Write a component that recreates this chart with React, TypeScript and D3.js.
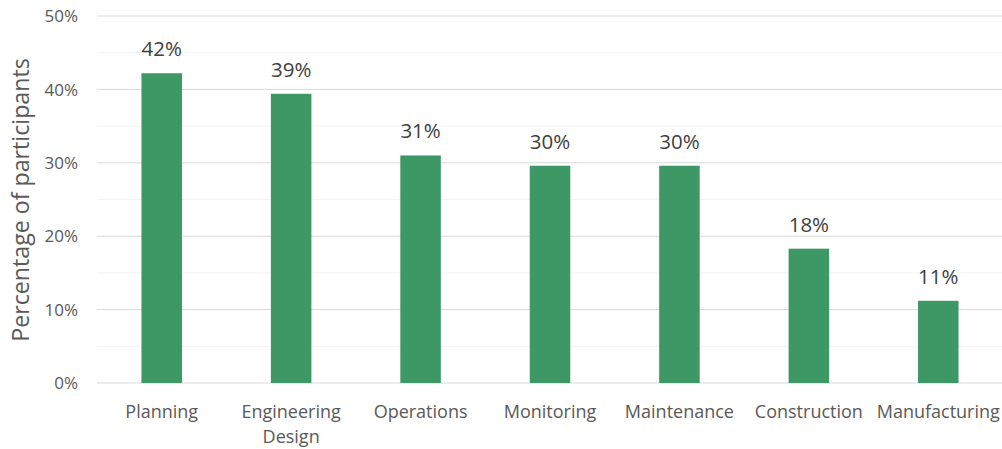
import { scaleBand, scaleLinear, range } from "d3";
import { FC } from "react";

const categories = [
  "Planning",
  "Engineering Design",
  "Operations",
  "Monitoring",
  "Maintenance",
  "Construction",
  "Manufacturing",
];
const values = [42.2, 39.4, 31.0, 29.6, 29.6, 18.3, 11.2];
const valueLabels = ["42%", "39%", "31%", "30%", "30%", "18%", "11%"];
const yTicks = [0, 10, 20, 30, 40, 50];

const width = 1002;
const height = 449;
const left = 97;
const right = 1003;
const top = 16;
const bottom = 383;
const font = "'Open Sans', sans-serif";

const App: FC = () => {
  const x = scaleBand<string>()
    .domain(categories)
    .range([left, right])
    .paddingInner(0.687)
    .paddingOuter(0.3435);

  const y = scaleLinear().domain([0, 50]).range([bottom, top]);
  const minorTicks = range(5, 50, 10);

  // wrap long category names onto two lines
  const lines = (c: string) => (c === "Engineering Design" ? ["Engineering", "Design"] : [c]);

  return (
    <svg
      width={width}
      height={height}
      style={{ position: "absolute", left: 0, top: 0, fontFamily: font }}
    >
      <rect width={width} height={height} fill="#fff" />
      {minorTicks.map((t) => (
        <line key={"m" + t} x1={left} x2={right} y1={y(t)} y2={y(t)} stroke="#f2f2f2" strokeWidth={1} />
      ))}
      {yTicks.map((t) => (
        <g key={t}>
          <line x1={left} x2={right} y1={y(t)} y2={y(t)} stroke="#d9d9d9" strokeWidth={1} />
          <text x={78} y={y(t)} dy="0.36em" textAnchor="end" fontSize={17} fill="#595959">
            {t}%
          </text>
        </g>
      ))}
      {categories.map((c, i) => (
        <g key={c}>
          <rect
            x={x(c)!}
            y={y(values[i])}
            width={x.bandwidth()}
            height={y(0) - y(values[i])}
            fill="#3e9865"
          />
          <text
            x={x(c)! + x.bandwidth() / 2}
            y={y(values[i]) - 17}
            textAnchor="middle"
            fontSize={20.5}
            fill="#404040"
          >
            {valueLabels[i]}
          </text>
          {lines(c).map((l, j) => (
            <text
              key={l}
              x={x(c)! + x.bandwidth() / 2}
              y={418 + j * 25}
              textAnchor="middle"
              fontSize={18}
              fill="#595959"
            >
              {l}
            </text>
          ))}
        </g>
      ))}
      <text
        transform={`translate(29, 200) rotate(-90)`}
        textAnchor="middle"
        fontSize={23.2}
        fill="#595959"
      >
        Percentage of participants
      </text>
    </svg>
  );
};

export default App;
